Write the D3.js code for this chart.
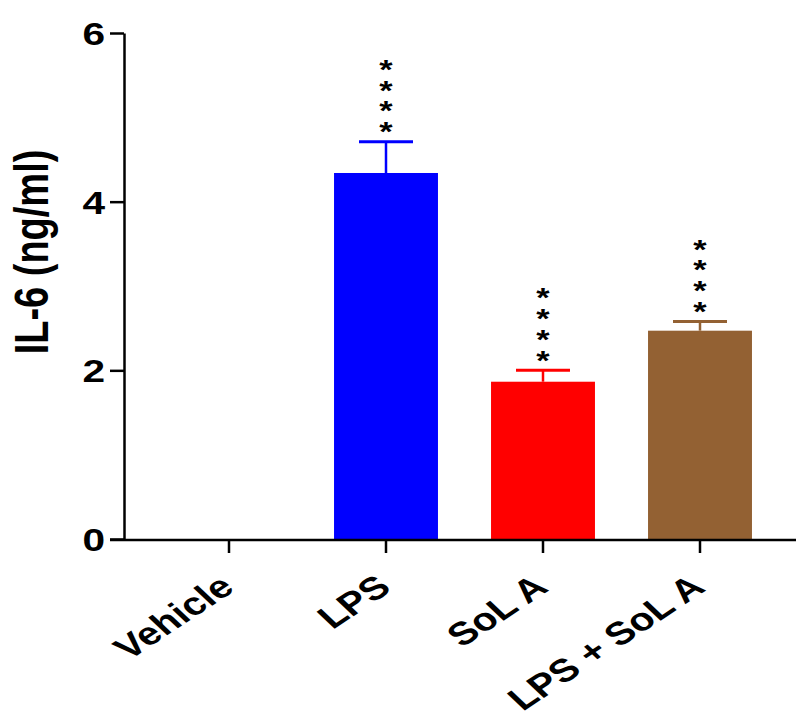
<!DOCTYPE html>
<html>
<head>
<meta charset="utf-8">
<script src="https://cdn.jsdelivr.net/npm/d3@7"></script>
<style>
  body { margin: 0; background: #fff; }
  text { font-family: "Liberation Sans", Arial, sans-serif; font-weight: bold; fill: #000; }
</style>
</head>
<body>
<script>
// IL-6 bar chart
var groups = ["Vehicle", "LPS", "SoL A", "LPS + SoL A"];
var means = [0, 4.34, 1.865, 2.47];
var errors = [0, 0.37, 0.135, 0.11];
var stars = ["", "****", "****", "****"];
var colors = ["#000000", "#0000ff", "#ff0000", "#936133"];
var yTicks = [0, 2, 4, 6];

var W = 796, H = 717;
var sx = 1.27; // text is wider than normal in the reference

var svg = d3.select("body").append("svg")
    .attr("width", W)
    .attr("height", H);

var y = d3.scaleLinear()
    .domain([0, 6])
    .range([539, 33]);

var x = d3.scaleBand()
    .domain(groups)
    .range([150.5, 778.5])
    .paddingInner(0.338)
    .paddingOuter(0.169);

// bars
svg.selectAll("rect.bar")
    .data(groups)
    .enter()
    .append("rect")
        .attr("class", "bar")
        .attr("x", d => x(d))
        .attr("y", (d, i) => y(means[i]))
        .attr("width", x.bandwidth())
        .attr("height", (d, i) => y(0) - y(means[i]))
        .attr("fill", (d, i) => colors[i]);

// error bars
var capW = 54;
var err = svg.selectAll("g.err")
    .data(groups.filter((d, i) => errors[i] > 0))
    .enter()
    .append("g")
        .attr("class", "err");

err.append("line")
    .attr("x1", d => x(d) + x.bandwidth() / 2)
    .attr("x2", d => x(d) + x.bandwidth() / 2)
    .attr("y1", d => y(means[groups.indexOf(d)]))
    .attr("y2", d => { var i = groups.indexOf(d); return y(means[i] + errors[i]); })
    .attr("stroke", d => colors[groups.indexOf(d)])
    .attr("stroke-width", 2.5);

err.append("line")
    .attr("x1", d => x(d) + x.bandwidth() / 2 - capW / 2)
    .attr("x2", d => x(d) + x.bandwidth() / 2 + capW / 2)
    .attr("y1", d => { var i = groups.indexOf(d); return y(means[i] + errors[i]); })
    .attr("y2", d => { var i = groups.indexOf(d); return y(means[i] + errors[i]); })
    .attr("stroke", d => colors[groups.indexOf(d)])
    .attr("stroke-width", 3);

// significance stars, stacked vertically in one text per group
var starText = svg.selectAll("text.star")
    .data(groups.filter((d, i) => stars[i].length > 0))
    .enter()
    .append("text")
        .attr("class", "star")
        .attr("text-anchor", "middle")
        .attr("font-size", 27)
        .attr("transform", function(d) {
            var i = groups.indexOf(d);
            var top = y(means[i] + errors[i]) - 16 - (stars[i].length - 1) * 20.8;
            return "translate(" + (x(d) + x.bandwidth() / 2) + "," + (top + 15.5) + ") scale(" + sx + ",1)";
        });

starText.selectAll("tspan")
    .data(d => stars[groups.indexOf(d)].split(""))
    .enter()
    .append("tspan")
        .attr("x", 0)
        .attr("dy", (d, k) => k === 0 ? 0 : 20.8)
        .text(d => d);

// y axis
var yAxis = d3.axisLeft(y)
    .tickValues(yTicks)
    .tickSize(14)
    .tickSizeOuter(0)
    .tickFormat(d3.format("d"));

var yAxisGroup = svg.append("g")
    .attr("transform", "translate(124,0)")
    .call(yAxis);

yAxisGroup.select(".domain").attr("stroke-width", 2.5);
yAxisGroup.selectAll(".tick line").attr("stroke-width", 2.5);
yAxisGroup.selectAll(".tick text")
    .attr("font-family", "Liberation Sans, Arial, sans-serif")
    .attr("font-weight", "bold")
    .attr("font-size", 32)
    .attr("x", -19 / sx)
    .attr("dy", "0.36em")
    .attr("transform", "scale(" + sx + ",1)");

// x axis
var xAxis = d3.axisBottom(x)
    .tickSize(13)
    .tickSizeOuter(0);

var xAxisGroup = svg.append("g")
    .attr("transform", "translate(0,540)")
    .call(xAxis);

xAxisGroup.select(".domain").remove();
xAxisGroup.append("line")
    .attr("x1", 110)
    .attr("x2", W)
    .attr("stroke", "#000")
    .attr("stroke-width", 2.5);
xAxisGroup.selectAll(".tick line").attr("stroke-width", 2.5);
xAxisGroup.selectAll(".tick text")
    .attr("font-family", "Liberation Sans, Arial, sans-serif")
    .attr("font-weight", "bold")
    .attr("font-size", 32)
    .attr("text-anchor", "end")
    .attr("x", 0)
    .attr("y", 0)
    .attr("dy", 0)
    .attr("transform", "translate(7,50) scale(" + sx + ",1) rotate(-40)");

// y axis title
svg.append("text")
    .attr("text-anchor", "middle")
    .attr("font-size", 38)
    .attr("transform", "translate(48,252) scale(" + sx + ",1) rotate(-90)")
    .text("IL-6 (ng/ml)");
</script>
</body>
</html>
